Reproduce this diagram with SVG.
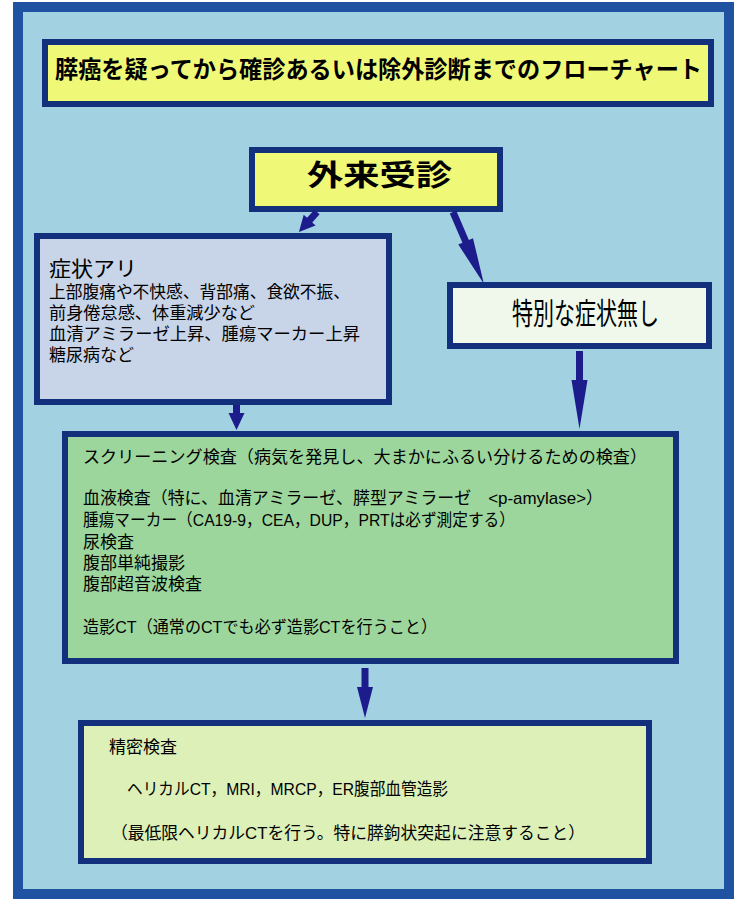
<svg xmlns="http://www.w3.org/2000/svg" width="734" height="900" viewBox="0 0 734 900">
<style>
.box{stroke:#12307c;stroke-width:6}
.t{font-family:"Liberation Sans","Noto Sans CJK JP",sans-serif;fill:#000;font-size:17px}
.arr{fill:#1c1c8c;stroke:none}
</style>
<rect x="0" y="0" width="734" height="900" fill="#ffffff"/>
<rect x="18" y="7" width="711" height="887" fill="#a2d2e2" stroke="#2052a2" stroke-width="10"/>
<g id="title">
<rect class="box" x="45" y="42" width="666" height="62" fill="#f0f878"/>
<text class="t" x="55" y="78" font-weight="bold" style="font-size:24px" textLength="647" lengthAdjust="spacingAndGlyphs">膵癌を疑ってから確診あるいは除外診断までのフローチャート</text>
</g>
<g id="gairai">
<rect class="box" x="252" y="150" width="248" height="59" fill="#f0f878"/>
<text class="t" x="307" y="186" font-weight="bold" style="font-size:29px" textLength="145" lengthAdjust="spacingAndGlyphs">外来受診</text>
</g>
<g id="shojo-ari">
<rect class="box" x="37" y="236" width="352" height="166" fill="#c8d4e8"/>
<text class="t" x="49" y="276" style="font-size:21px" textLength="88" lengthAdjust="spacingAndGlyphs">症状アリ</text>
<text class="t" x="49" y="298" textLength="301" lengthAdjust="spacingAndGlyphs">上部腹痛や不快感、背部痛、食欲不振、</text>
<text class="t" x="49" y="319" textLength="206" lengthAdjust="spacingAndGlyphs">前身倦怠感、体重減少など</text>
<text class="t" x="49" y="340" textLength="311" lengthAdjust="spacingAndGlyphs">血清アミラーゼ上昇、腫瘍マーカー上昇</text>
<text class="t" x="49" y="361" textLength="85" lengthAdjust="spacingAndGlyphs">糖尿病など</text>
</g>
<g id="tokubetsu">
<rect class="box" x="450" y="285" width="259" height="61" fill="#f0f8ec"/>
<text class="t" x="512" y="324" style="font-size:30px" textLength="147" lengthAdjust="spacingAndGlyphs">特別な症状無し</text>
</g>
<g id="screening">
<rect class="box" x="65" y="434" width="611" height="227" fill="#9cd69c"/>
<text class="t" x="83" y="463" textLength="564" lengthAdjust="spacingAndGlyphs">スクリーニング検査（病気を発見し、大まかにふるい分けるための検査）</text>
<text class="t" x="83" y="504" textLength="520" lengthAdjust="spacingAndGlyphs">血液検査（特に、血清アミラーゼ、膵型アミラーゼ　&lt;p-amylase&gt;）</text>
<text class="t" x="83" y="526" textLength="432" lengthAdjust="spacingAndGlyphs">腫瘍マーカー（CA19-9，CEA，DUP，PRTは必ず測定する）</text>
<text class="t" x="83" y="548">尿検査</text>
<text class="t" x="83" y="569">腹部単純撮影</text>
<text class="t" x="83" y="590">腹部超音波検査</text>
<text class="t" x="83" y="633" textLength="354" lengthAdjust="spacingAndGlyphs">造影CT（通常のCTでも必ず造影CTを行うこと）</text>
</g>
<g id="seimitsu">
<rect class="box" x="81" y="723" width="568" height="138" fill="#dcf0b8"/>
<text class="t" x="109" y="753" textLength="68" lengthAdjust="spacingAndGlyphs">精密検査</text>
<text class="t" x="127" y="795" textLength="321" lengthAdjust="spacingAndGlyphs">ヘリカルCT，MRI，MRCP，ER腹部血管造影</text>
<text class="t" x="111" y="839" textLength="474" lengthAdjust="spacingAndGlyphs">（最低限ヘリカルCTを行う。特に膵鉤状突起に注意すること）</text>
</g>
<g id="connectors">
<polygon class="arr" transform="translate(317,212) rotate(42)" points="-3.5,0 3.5,0 3.5,11 8,11 0,27 -8,11 -3.5,11"/>
<polygon class="arr" transform="translate(453,212) rotate(-23.3)" points="-3.5,0 3.5,0 3.5,32 8,32 0,78 -8,32 -3.5,32"/>
<polygon class="arr" points="233,405 240,405 240,413 244.5,413 236.5,430 228.5,413 233,413"/>
<polygon class="arr" points="576,351 583,351 583,380 587.5,380 579.5,429 571.5,380 576,380"/>
<polygon class="arr" points="361.5,668 368.5,668 368.5,687 373,687 365,718 357,687 361.5,687"/>
</g>
</svg>
